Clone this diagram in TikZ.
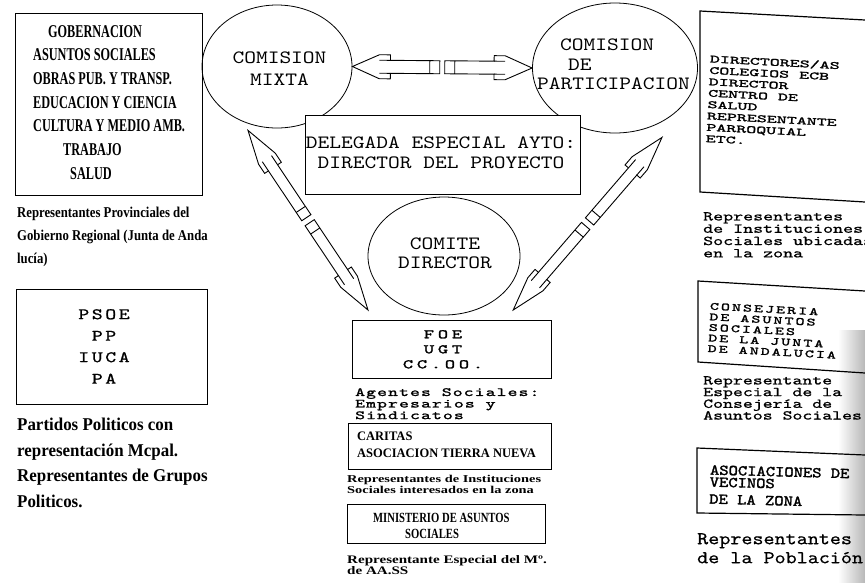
\documentclass[tikz,border=0pt]{standalone}
\usepackage{fontspec}
\setmainfont{Liberation Serif}
\newfontfamily\dgserif{Liberation Serif}
\newfontfamily\dgmono{lmmono10-regular.otf}
\usetikzlibrary{shapes.geometric,calc}

% condensed/expanded bold serif: stretch, size, leading
\newcommand\dgcond[3]{\dgserif\bfseries\addfontfeatures{FakeStretch=#1}\fontsize{#2}{#3}\selectfont}
% typewriter face: stretch, letter space, emboldening, size, leading
\newcommand\dgtype[5]{\dgmono\addfontfeatures{FakeStretch=#1,LetterSpace=#2,FakeBold=#3}\fontsize{#4}{#5}\selectfont}

\tikzset{
  boxline/.style={draw, line width=1.2pt, line cap=rect},
  boxnode/.style={boxline, rectangle, inner sep=0, anchor=north west},
  oval/.style={draw, line width=0.8pt, ellipse, inner sep=0},
  txt/.style={inner sep=0, anchor=north west, align=left},
  ctxt/.style={inner sep=0, align=center},
  pencil/.style={draw, line width=0.9pt, fill=white, line join=miter},
  pencil line/.style={draw, line width=0.9pt},
}

% hollow block arrow from tip #1 back to tail #2; head length #3,
% head half width #4, shaft half width #5 (all in pt)
\newcommand\dgpencil[5]{%
  \pgfmathsetmacro\dgtab{#3+11}%
  \coordinate (pt0) at (#1);
  \coordinate (pte) at (#2);
  \coordinate (pta) at ($(pt0)!#3pt!(pte)$);
  \coordinate (ptb) at ($(pt0)!\dgtab pt!(pte)$);
  \coordinate (ptc) at ($(pte)!10pt!(pt0)$);
  \draw[pencil] (pt0) -- ($(pta)!#4pt!90:(pte)$) -- ($(ptb)!#4pt!90:(pte)$)
    -- ($(ptb)!#5pt!90:(pte)$) -- ($(pte)!#5pt!-90:(pt0)$)
    -- ($(pte)!#5pt!90:(pt0)$) -- ($(ptb)!#5pt!-90:(pte)$)
    -- ($(ptb)!#4pt!-90:(pte)$) -- ($(pta)!#4pt!-90:(pte)$) -- cycle;
  \draw[pencil line] ($(pta)!#5pt!90:(pte)$) -- ($(ptb)!#5pt!90:(pte)$)
    ($(pta)!#5pt!-90:(pte)$) -- ($(ptb)!#5pt!-90:(pte)$)
    ($(ptc)!#5pt!-90:(pt0)$) -- ($(ptc)!#5pt!90:(pt0)$);
}

\begin{document}
\begin{tikzpicture}[x=1pt,y=-1pt]
\useasboundingbox (0,0) rectangle (865,582);

% worn right margin
\shade[left color=white, right color=black!28] (838,330) rectangle (865,582);

% ---- commissions ----
\node[oval, minimum width=150, minimum height=123] (mixta) at (277,66.5) {};
\node[ctxt, font=\dgtype{1.19}{0}{0}{18.8}{21.3}] (mixtatxt) at (279.5,68.5) {COMISION\\MIXTA};

\node[oval, minimum width=165, minimum height=130] (particip) at (615,68) {};
\node[txt, font=\dgtype{1.19}{0}{0}{18.8}{19.5}] (partictxt) at (537,39)
  {\hspace*{23pt}COMISION\\\hspace*{31pt}DE\\PARTICIPACION};

\node[oval, minimum width=152, minimum height=118] (comite) at (444,256) {};
\node[ctxt, font=\dgtype{1.19}{0}{0}{18.8}{19}] (comitetxt) at (445,253.5) {COMITE\\DIRECTOR};

\node[boxnode, fill=white, minimum width=275, minimum height=79] (deleg) at (305,115) {};
\node[ctxt, font=\dgtype{1.19}{0}{0}{18.8}{20}] (delegtxt) at (441,153)
  {DELEGADA ESPECIAL AYTO:\\DIRECTOR DEL PROYECTO};

% ---- block arrows ----
\coordinate (hmid) at ($(mixta.east)!0.5!(particip.west)$);
\coordinate (hl) at ($(hmid)+(-2.5,0)$);
\coordinate (hr) at ($(hmid)+(2.5,0)$);
\dgpencil{mixta.east}{hl}{27}{12}{6.5}
\dgpencil{particip.west}{hr}{27}{12}{6.5}

\node[boxnode, minimum width=199, minimum height=58] (foe) at (352,320) {};

\coordinate (dla) at ($(mixta.south)+(-29,2)$);
\coordinate (dlb) at ($(foe.north west)+(16,-10)$);
\coordinate (dlm) at ($(dla)!0.5!(dlb)$);
\coordinate (dlm1) at ($(dlm)!3pt!(dla)$);
\coordinate (dlm2) at ($(dlm)!3pt!(dlb)$);
\dgpencil{dla}{dlm1}{34}{10}{5.5}
\dgpencil{dlb}{dlm2}{34}{10}{5.5}

\coordinate (dra) at ($(particip.south)+(47,4)$);
\coordinate (drb) at ($(foe.north east)+(-39,-10)$);
\coordinate (drm) at ($(dra)!0.5!(drb)$);
\coordinate (drm1) at ($(drm)!3pt!(dra)$);
\coordinate (drm2) at ($(drm)!3pt!(drb)$);
\dgpencil{dra}{drm1}{34}{10}{5.5}
\dgpencil{drb}{drm2}{34}{10}{5.5}

% ---- left column ----
\node[boxnode, minimum width=187, minimum height=182] (gob) at (15,13) {};
\node[txt, font=\dgcond{0.68}{18}{23.7}] (gobtxt) at (33,25)
  {\hspace*{15pt}GOBERNACION\\ASUNTOS SOCIALES\\OBRAS PUB. Y TRANSP.\\EDUCACION Y CIENCIA\\CULTURA Y MEDIO AMB.\\\hspace*{30pt}TRABAJO\\\hspace*{37pt}SALUD};
\node[txt, font=\dgcond{0.85}{15}{23}] (gobcap) at (17,207)
  {Representantes Provinciales del\\Gobierno Regional (Junta de Anda\\lucía)};

\node[boxnode, minimum width=191, minimum height=115] (psoe) at (16,289) {};
\node[ctxt, anchor=north, font=\dgtype{1.3}{16}{1}{16}{21.5}] (psoetxt) at (104,309) {PSOE\\PP\\IUCA\\PA};
\node[txt, font=\dgcond{0.94}{18}{25.5}] (psoecap) at (17,418)
  {Partidos Politicos con\\representación Mcpal.\\Representantes de Grupos\\Politicos.};

% ---- centre column ----
\node[ctxt, anchor=north, font=\dgtype{1.5}{29}{2}{13}{15}] (foetxt) at (443,330) {FOE\\UGT\\CC.OO.};
\node[txt, font=\dgtype{1.5}{9}{1.5}{12.5}{9.8}] (foecap) at (355,388)
  {Agentes Sociales:\\Empresarios y\\Sindicatos};

\node[boxnode, minimum width=203, minimum height=46] (caritas) at (348,423) {};
\node[txt, font=\dgcond{0.96}{13}{16.5}] (caritastxt) at (357,432)
  {CARITAS\\ASOCIACION TIERRA NUEVA};
\node[txt, font=\dgcond{1.37}{10.5}{10.7}] (caritascap) at (347,475)
  {Representantes de Instituciones\\Sociales interesados en la zona};

\node[boxnode, minimum width=198, minimum height=39] (minis) at (347,504) {};
\node[txt, font=\dgcond{0.76}{14}{16}] (ministxt) at (373,513)
  {MINISTERIO DE ASUNTOS\\\hspace*{32pt}SOCIALES};
\node[txt, font=\dgcond{1.31}{11.5}{11.5}] (miniscap) at (347,555)
  {Representante Especial del Mº.\\de AA.SS};

% ---- right column ----
\draw[boxline] (865,20) -- (700,11) -- (700,192) -- (865,202);
\node[txt, rotate=-3, font=\dgtype{1.73}{0}{2}{11}{11.4}] (dirtxt) at (710,54.5)
  {DIRECTORES/AS\\COLEGIOS ECB\\DIRECTOR\\CENTRO DE\\SALUD\\REPRESENTANTE\\PARROQUIAL\\ETC.};
\node[txt, font=\dgtype{1.41}{0}{1}{13.5}{12.3}] (dircap) at (703,212)
  {Representantes\\de Instituciones\\Sociales ubicadas\\en la zona};

\draw[boxline] (865,291) -- (698,281) -- (698,362) -- (865,373);
\node[txt, rotate=-3, font=\dgtype{1.55}{19}{2}{11}{10.6}] (consetxt) at (710,302.5)
  {CONSEJERIA\\DE ASUNTOS\\SOCIALES\\DE LA JUNTA\\DE ANDALUCIA};
\node[txt, font=\dgtype{1.4}{0}{1}{13.5}{11.7}] (consecap) at (703,376)
  {Representante\\Especial de la\\Consejería de\\Asuntos Sociales};

\draw[boxline] (865,455) -- (697,448) -- (697,513) -- (865,515);
\node[txt, rotate=-1.5, font=\dgtype{1.18}{0}{2}{15}{12}] (vecitxt) at (710,465)
  {ASOCIACIONES DE\\VECINOS\\[5pt]DE LA ZONA};
\node[txt, font=\dgtype{1.17}{0}{0.5}{18}{19}] (vecicap) at (697,533)
  {Representantes\\de la Población};
\end{tikzpicture}
\end{document}
